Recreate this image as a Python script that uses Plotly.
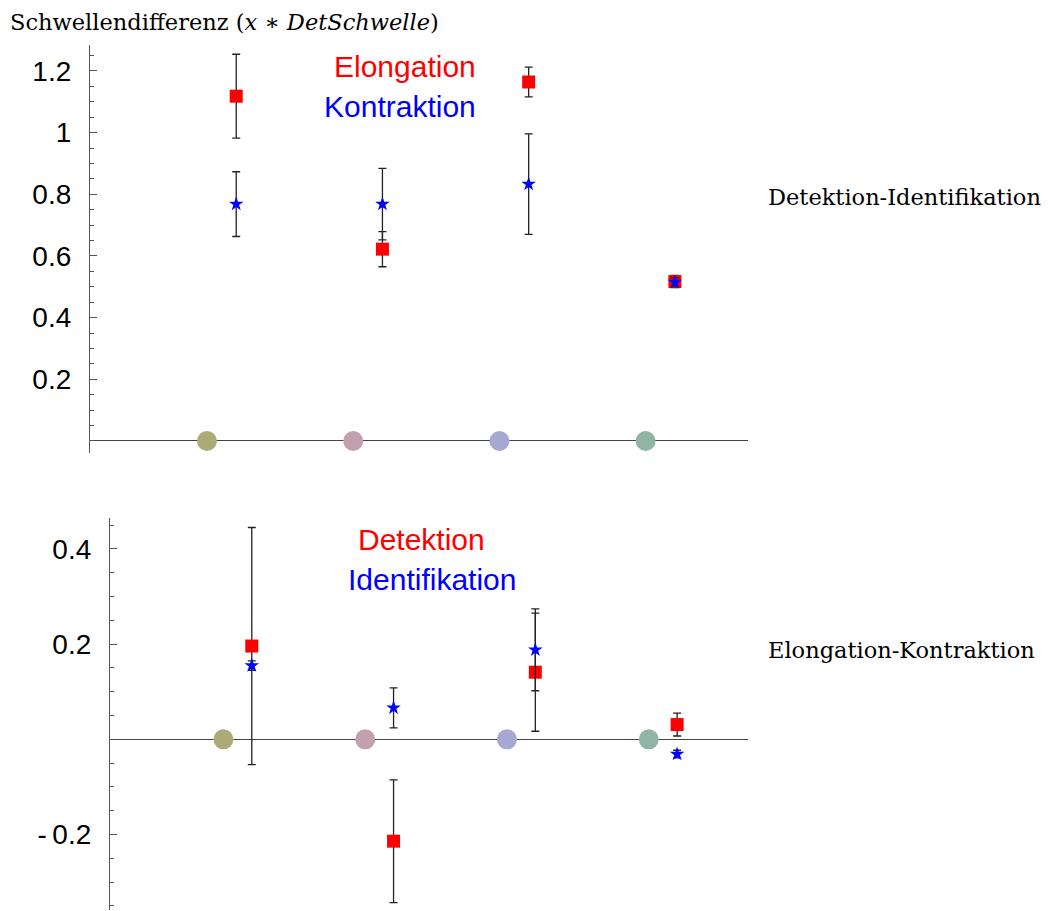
import plotly.graph_objects as go

W, H = 1049, 911

# ---- data ----
categories = [1, 2, 3, 4]
cat_colors = ["#ADAA77", "#C3A0AE", "#A6A8D2", "#8FB5A4"]

top_elong = [1.118, 0.622, 1.164, 0.517]
top_elong_err = [0.136, 0.057, 0.048, 0.020]
top_kontr = [0.768, 0.768, 0.833, 0.515]
top_kontr_err = [0.105, 0.116, 0.163, 0.015]

bot_det = [0.196, -0.214, 0.141, 0.031]
bot_det_err = [0.249, 0.129, 0.124, 0.024]
bot_ident = [0.155, 0.066, 0.188, -0.031]
bot_ident_err = [0.010, 0.042, 0.086, 0.008]

top_ticks = [0.2, 0.4, 0.6, 0.8, 1.0, 1.2]
top_ticktext = ["0.2", "0.4", "0.6", "0.8", "1", "1.2"]
bot_ticks = [-0.2, 0.2, 0.4]
bot_ticktext = ["-\u20090.2", "0.2", "0.4"]

OFFSET = 0.2
px_ = [c + OFFSET for c in categories]

fig = go.Figure()

def add_panel(xa, ya, red, red_err, blue, blue_err):
    fig.add_trace(go.Scatter(
        x=categories, y=[0] * len(categories), mode="markers",
        marker=dict(size=20, color=cat_colors, line=dict(width=0)),
        xaxis=xa, yaxis=ya, showlegend=False, hoverinfo="skip"))
    fig.add_trace(go.Scatter(
        x=px_, y=red, mode="markers",
        marker=dict(symbol="square", size=13, color="#FF0000", line=dict(width=0)),
        error_y=dict(type="data", array=red_err, visible=True, color="#222222",
                     thickness=1.3, width=4),
        xaxis=xa, yaxis=ya, showlegend=False))
    fig.add_trace(go.Scatter(
        x=px_, y=blue, mode="markers",
        marker=dict(symbol="star", size=11, color="#0000FF", line=dict(width=0)),
        error_y=dict(type="data", array=blue_err, visible=True, color="#222222",
                     thickness=1.3, width=4),
        xaxis=xa, yaxis=ya, showlegend=False))

add_panel("x", "y", top_elong, top_elong_err, top_kontr, top_kontr_err)
add_panel("x2", "y2", bot_det, bot_det_err, bot_ident, bot_ident_err)

sans = dict(family="Liberation Sans, Arial, sans-serif", size=28, color="black")
legfont = dict(family="Liberation Sans, Arial, sans-serif", size=30)
axcol = "#555555"

xcommon = dict(range=[0.2, 4.7], showgrid=False, showticklabels=False, ticks="",
               showline=False, zeroline=False)
ycommon = dict(showgrid=False, zeroline=True, zerolinecolor="#444444", zerolinewidth=1.3,
               showline=True, linecolor=axcol, linewidth=1.3,
               ticks="inside", ticklen=7, tickcolor=axcol, tickwidth=1,
               tickfont=sans, ticklabelstandoff=12,
               minor=dict(ticks="inside", ticklen=4, tickcolor=axcol, dtick=0.05, tick0=0,
                          showgrid=False))

fig.update_layout(
    width=W, height=H, margin=dict(l=0, r=0, t=0, b=0),
    plot_bgcolor="white", paper_bgcolor="white",
    xaxis=dict(domain=[90 / W, 748 / W], anchor="y", **xcommon),
    yaxis=dict(domain=[1 - 453 / H, 1 - 45 / H], anchor="x", range=[-0.039, 1.284],
               tickvals=top_ticks, ticktext=top_ticktext, **ycommon),
    xaxis2=dict(domain=[110 / W, 748 / W], anchor="y2", **xcommon),
    yaxis2=dict(domain=[1 - 910 / H, 1 - 518 / H], anchor="x2", range=[-0.3586, 0.465],
                tickvals=bot_ticks, ticktext=bot_ticktext, **ycommon),
)

serif = dict(family="DejaVu Serif, Liberation Serif, serif", size=22.5, color="black")

def ann(text, x, y, font, xanchor="left"):
    fig.add_annotation(text=text, x=x / W, y=1 - y / H, xref="paper", yref="paper",
                       xanchor=xanchor, yanchor="middle", showarrow=False, font=font)

ann("Schwellendifferenz (<i>x</i> \u2217 <i>DetSchwelle</i>)", 8, 22, serif)
ann("Detektion-Identifikation", 766, 197, serif)
ann("Elongation-Kontraktion", 766, 650, serif)
ann("Elongation", 478, 66, dict(legfont, color="#FF0000"), "right")
ann("Kontraktion", 478, 106, dict(legfont, color="#0000FF"), "right")
ann("Detektion", 487, 539, dict(legfont, color="#FF0000"), "right")
ann("Identifikation", 518, 579, dict(legfont, color="#0000FF"), "right")

fig.write_html("out.html")
